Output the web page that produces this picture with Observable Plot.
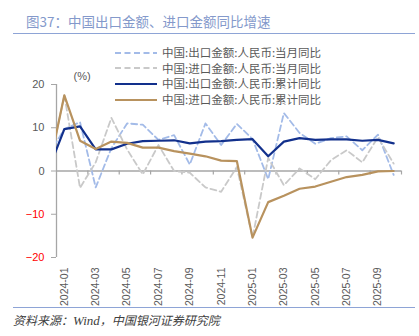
<!DOCTYPE html>
<html><head><meta charset="utf-8">
<script src="https://cdn.jsdelivr.net/npm/d3@7"></script>
<script src="https://cdn.jsdelivr.net/npm/@observablehq/plot@0.6"></script>
<style>
body{margin:0;width:419px;height:336px;overflow:hidden;background:#fff;font-family:"Noto Sans CJK SC",sans-serif;position:relative}
#title{position:absolute;left:13px;top:0;width:402px;height:33px;border-bottom:1.5px solid #8ea4d6;}
#title span{position:absolute;left:13px;top:15px;font-size:13.5px;color:#8499cb;line-height:1;white-space:nowrap}
#chart{position:absolute;left:0;top:36px}
#source{position:absolute;left:13px;top:307px;width:402px;border-top:1.5px solid #8ea4d6;font-style:italic;font-size:12px;color:#404040;padding-top:5px;line-height:14px;white-space:nowrap}
#source .w{font-family:"Liberation Serif",serif;font-size:13px}
#legend{position:absolute;left:115px;top:45px;font-size:11.5px;color:#595959}
#legend .row{height:15.6px;line-height:15.6px;display:flex;align-items:center;white-space:nowrap}
#legend svg{margin-right:5px}
</style></head>
<body>
<div id="title"><span>图37：中国出口金额、进口金额同比增速</span></div>
<div id="chart"></div>
<div id="legend"></div>
<div id="source">资料来源：<span class="w">Wind</span>，中国银河证券研究院</div>
<script>
const months = ["2023-12","2024-01","2024-02","2024-03","2024-04","2024-05","2024-06","2024-07","2024-08","2024-09","2024-10","2024-11","2024-12","2025-01","2025-02","2025-03","2025-04","2025-05","2025-06","2025-07","2025-08","2025-09","2025-10"];
const exportMonthly = [3.8, 9.7, 11.3, -3.8, 5.3, 11.0, 10.7, 7.2, 8.3, 1.5, 11.0, 6.0, 10.9, 7.4, -1.9, 13.4, 8.8, 6.3, 7.6, 8.0, 4.8, 8.4, -0.9];
const importMonthly = [0.3, 17.5, -3.9, 2.0, 12.3, 5.0, -0.8, 6.0, 0.0, -0.4, -3.8, -4.8, 0.9, -15.4, 3.0, -3.3, 0.6, -1.9, 2.5, 4.8, 2.0, 7.8, 1.7];
const exportCum = [0.4, 9.7, 10.3, 5.0, 5.0, 6.3, 6.9, 7.0, 7.1, 6.4, 6.8, 6.9, 7.2, 7.35, 3.4, 6.8, 7.6, 7.2, 7.3, 7.3, 7.0, 7.2, 6.4];
const importCum = [0.3, 17.5, 7.0, 5.1, 6.8, 6.5, 5.4, 5.4, 4.6, 4.0, 3.4, 2.4, 2.3, -15.4, -7.2, -5.7, -4.1, -3.6, -2.5, -1.4, -0.9, -0.1, 0.0];
const seriesNames = ["中国:出口金额:人民币:当月同比","中国:进口金额:人民币:当月同比","中国:出口金额:人民币:累计同比","中国:进口金额:人民币:累计同比"];
const seriesColors = ["#a3bbe8","#c9c9c9","#12308c","#b8925e"];
const seriesDash = ["6,3.5","6,3.5",null,null];
const seriesWidth = [1.8,1.8,2.2,2.2];
const seriesData = [exportMonthly, importMonthly, exportCum, importCum];
const yTicksPos = [0, 10, 20];
const yTicksNeg = [-20, -10];
const labelIdx = d3.range(1, months.length, 2);
const tickPos = d3.range(2.5, months.length, 2);

const lineMarks = seriesData.map((arr, k) => Plot.lineY(arr, {
  stroke: seriesColors[k], strokeWidth: seriesWidth[k],
  strokeDasharray: seriesDash[k] || undefined, clip: true
}));

const chart = Plot.plot({
  width: 419, height: 271,
  marginLeft: 56, marginRight: 18, marginTop: 48, marginBottom: 50,
  x: {domain: [0.5, months.length - 0.5]},
  y: {domain: [-20, 20]},
  style: {fontFamily: "'Liberation Sans', Arial, sans-serif", fontSize: "11px", color: "#595959", background: "transparent"},
  marks: [
    Plot.ruleY([0], {stroke: "#a6a6a6", strokeWidth: 1.3}),
    Plot.ruleX(tickPos, {y1: 0, y2: 0, insetBottom: -4, stroke: "#a6a6a6", strokeWidth: 1.2}),
    Plot.ruleX([0.5], {stroke: "#a6a6a6", strokeWidth: 1.3}),
    Plot.axisY(yTicksPos, {tickSize: 5, tickPadding: 7, stroke: "#a6a6a6", fill: "#595959", label: null}),
    Plot.axisY(yTicksNeg, {tickSize: 5, tickPadding: 7, stroke: "#a6a6a6", fill: "#ff0000", label: null}),
    Plot.axisX(labelIdx, {anchor: "bottom", tickSize: 0, tickPadding: 10, tickRotate: -90, tickFormat: i => months[i], label: null, fill: "#595959", fontSize: 10.5}),
    Plot.text(["(%)"], {frameAnchor: "top-left", dx: 17, dy: -12, fill: "#595959", fontSize: 11}),
    ...lineMarks
  ]
});
document.getElementById("chart").appendChild(chart);

const legend = document.getElementById("legend");
seriesNames.forEach((name, k) => {
  const row = document.createElement("div");
  row.className = "row";
  row.innerHTML = `<svg width="42" height="6"><line x1="0" y1="3" x2="42" y2="3" stroke="${seriesColors[k]}" stroke-width="${seriesWidth[k]}" ${seriesDash[k] ? `stroke-dasharray="${seriesDash[k]}"` : ""}/></svg><span>${name}</span>`;
  legend.appendChild(row);
});
</script>
</body></html>
